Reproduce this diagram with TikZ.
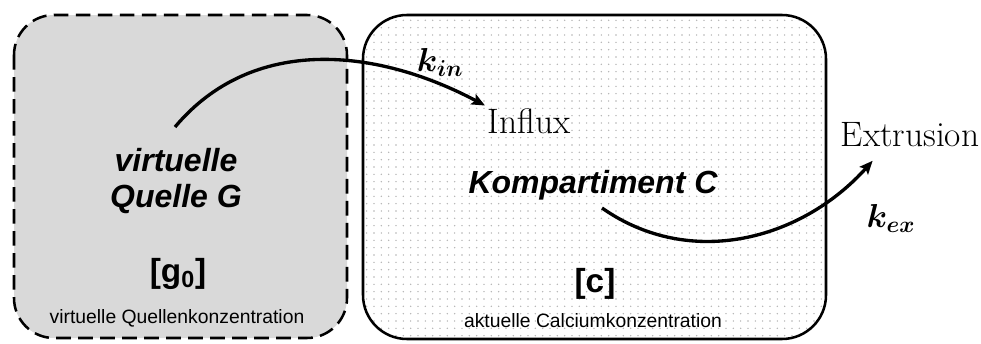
\documentclass[tikz,border=0pt]{standalone}
\usepackage{amsmath}
\usepackage{fontspec}
\setsansfont{Liberation Sans}
\usetikzlibrary{arrows.meta,patterns.meta}
\tikzset{
    flow/.style={line width=2.5pt, -{Stealth[length=10pt, width=8.5pt, inset=2pt]}},
    srcbox/.style={draw, line width=1.9pt, dash pattern=on 11pt off 5.5pt, rounded corners=30pt, fill=gray!30},
    compbox/.style={draw, line width=1.9pt, rounded corners=33pt, pattern={Dots[distance=5.5pt, radius=0.6pt]}, pattern color=gray!60},
    title/.style={font=\sffamily\bfseries\itshape\fontsize{24}{27}\selectfont, align=center},
    conc/.style={font=\sffamily\bfseries\fontsize{25}{28}\selectfont},
    caption/.style={font=\sffamily\fontsize{14.5}{16}\selectfont},
    word/.style={font=\fontsize{26.5}{29}\selectfont},
    rate/.style={font=\fontsize{24}{27}\selectfont}
}
\begin{document}
\begin{tikzpicture}[x=0.75pt, y=0.75pt, every node/.style={inner sep=2pt}]
        \useasboundingbox (0,0) rectangle (981,-343);
        \draw[srcbox] (14,-15) rectangle (347,-338);
        \draw[compbox] (363,-15) rectangle (826,-339);
        \coordinate (gstart) at (175,-127);
        \coordinate (cstart) at (602,-208);
        \node[title] (quelle) at (176,-181) {virtuelle\\Quelle G};
        \node[conc] (g0) at (178,-274) {[g\textsubscript{0}]};
        \node[caption] (g0txt) at (177,-318) {virtuelle Quellenkonzentration};
        \node[title] (komp) at (593,-185) {Kompartiment C};
        \node[conc] (c) at (595,-284) {[c]};
        \node[caption] (ctxt) at (593,-321) {aktuelle Calciumkonzentration};
        \node[word, anchor=west] (influx) at (485,-121) {Influx};
        \node[word, anchor=west] (extr) at (838,-135) {Extrusion};
        \node[rate] (kin) at (440,-62) {$\boldsymbol{k_{in}}$};
        \node[rate] (kex) at (891,-218) {$\boldsymbol{k_{ex}}$};
        \draw[flow] (gstart) to[out=50, in=152] (influx.north west);
        \draw[flow] (cstart) to[out=-35, in=228] ([xshift=26pt, yshift=-8pt]extr.south west);
\end{tikzpicture}
\end{document}
